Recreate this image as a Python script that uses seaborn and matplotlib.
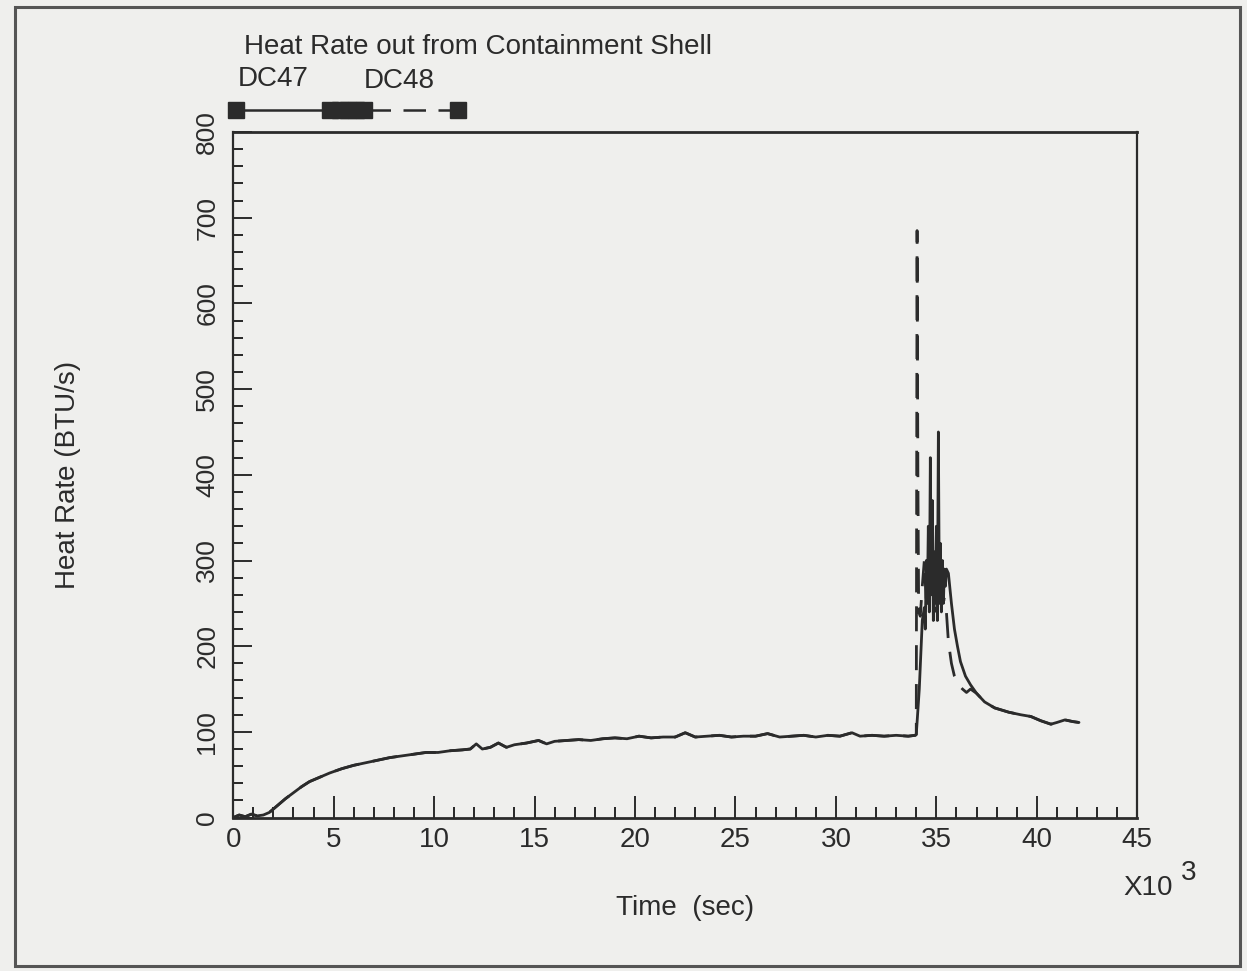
import matplotlib
matplotlib.use("Agg")
import matplotlib.pyplot as plt
import seaborn as sns
import numpy as np
import pandas as pd
from matplotlib.patches import Rectangle
from matplotlib.ticker import MultipleLocator, FuncFormatter

# Readings taken off the scanned plot (time in sec, heat rate in BTU/s)
# both runs lie on top of each other up to ~34000 s
t_base = [0, 300, 600, 900, 1200, 1500, 1800, 2200, 2600, 3000, 3400, 3800, 4200, 4800,
          5400, 6000, 6600, 7200, 7800, 8400, 9000, 9600, 10200, 10800, 11400, 11800,
          12100, 12400, 12800, 13200, 13600, 14000, 14600, 15200, 15600, 16000, 16600,
          17200, 17800, 18400, 19000, 19600, 20200, 20800, 21400, 22000, 22500, 23000,
          23600, 24200, 24800, 25400, 26000, 26600, 27200, 27800, 28400, 29000, 29600,
          30200, 30800, 31200, 31800, 32400, 33000, 33600, 33950]
q_base = [0, 3, 1, 4, 2, 3, 6, 14, 22, 29, 36, 42, 46, 52,
          57, 61, 64, 67, 70, 72, 74, 76, 76, 78, 79, 80,
          86, 80, 82, 87, 82, 85, 87, 90, 86, 89, 90,
          91, 90, 92, 93, 92, 95, 93, 94, 94, 99, 94,
          95, 96, 94, 95, 95, 98, 94, 95, 96, 94, 96,
          95, 99, 95, 96, 95, 96, 95, 96]

t_dc47 = [34000, 34150, 34300, 34400, 34450, 34500, 34550, 34600, 34650, 34700, 34750,
          34800, 34850, 34900, 34950, 35000, 35050, 35100, 35150, 35200, 35250, 35300,
          35350, 35400, 35450, 35500, 35600, 35750, 35900, 36050, 36200, 36450, 36700,
          37000, 37400, 37900, 38600, 39200, 39700, 40200, 40700, 41000, 41400, 41800, 42100]
q_dc47 = [97, 150, 230, 245, 220, 300, 250, 340, 240, 420, 260,
          370, 230, 310, 250, 340, 230, 450, 250, 320, 240, 300,
          250, 290, 270, 290, 285, 250, 220, 200, 182, 165, 155,
          145, 135, 128, 123, 120, 118, 113, 109, 111, 114, 112, 111]

t_dc48 = [34000, 34040, 34080, 34120, 34200, 34300, 34400, 34500, 34600, 34700, 34800,
          34900, 35000, 35100, 35200, 35300, 35400, 35500, 35600, 35750, 35900, 36100,
          36300, 36500, 36700, 37000, 37400, 37900, 38600, 39200, 39700, 40200, 40700,
          41000, 41400, 41800, 42100]
q_dc48 = [97, 685, 400, 240, 235, 270, 300, 250, 290, 260, 300,
          240, 280, 260, 270, 250, 255, 240, 205, 180, 165, 155,
          150, 146, 150, 145, 135, 128, 123, 120, 118, 113, 109,
          111, 114, 112, 111]

# key drawn above the frame: line extents and marker spots (sec)
key_dc47_t = [150, 4800]
key_dc48_t = [6700, 11200]
key_marks_t = [150, 4800, 5300, 5700, 6100, 6500, 11200]
key_y = 826

x_ticks = [0, 5, 10, 15, 20, 25, 30, 35, 40, 45]
y_ticks = [0, 100, 200, 300, 400, 500, 600, 700, 800]

paper = "#efefed"
ink = "#2b2b2b"

sns.set_theme(style="ticks")
plt.rcParams['font.family'] = ['Liberation Sans', 'DejaVu Sans']

fig = plt.figure(figsize=(12.47, 9.71), dpi=100, facecolor=paper)
ax = fig.add_axes([0.187, 0.158, 0.725, 0.706])
ax.set_facecolor(paper)

dc47 = pd.DataFrame({"t": t_base + t_dc47, "q": q_base + q_dc47})
dc48 = pd.DataFrame({"t": t_base + t_dc48, "q": q_base + q_dc48})

sns.lineplot(data=dc47, x="t", y="q", ax=ax, sort=False, estimator=None,
             color=ink, linewidth=2.0)
sns.lineplot(data=dc48, x="t", y="q", ax=ax, sort=False, estimator=None,
             color=ink, linewidth=2.0, dashes=False)
ax.lines[-1].set_dashes([9, 5])

ax.set_xlim(0, 45000)
ax.set_ylim(0, 800)
ax.set_xticks([v * 1000 for v in x_ticks])
ax.xaxis.set_major_formatter(FuncFormatter(lambda v, p: f"{v / 1000:g}"))
ax.xaxis.set_minor_locator(MultipleLocator(1000))
ax.set_yticks(y_ticks)
ax.yaxis.set_minor_locator(MultipleLocator(20))

ax.tick_params(axis="x", which="major", direction="in", length=16, width=1.4,
               labelsize=20, pad=7, colors=ink, top=False)
ax.tick_params(axis="x", which="minor", direction="in", length=8, width=1.4,
               top=False)
ax.tick_params(axis="y", which="major", direction="in", length=14, width=1.4,
               labelsize=19, pad=10, colors=ink, right=False)
ax.tick_params(axis="y", which="minor", direction="in", length=7, width=1.4,
               right=False)
for lab in ax.get_yticklabels():
    lab.set_rotation(90)
    lab.set_va("center")

for s in ax.spines.values():
    s.set_color(ink)
    s.set_linewidth(1.6)
ax.spines["top"].set_linewidth(2.0)
ax.spines["bottom"].set_linewidth(2.0)

ax.set_xlabel("Time  (sec)", fontsize=20, color=ink, labelpad=30)
ax.set_ylabel("Heat Rate (BTU/s)", fontsize=20, color=ink, labelpad=82)

# key above the plot
ax.plot(key_dc47_t, [key_y, key_y], color=ink, lw=1.8, clip_on=False)
ax.plot(key_dc48_t, [key_y, key_y], color=ink, lw=1.8, dashes=[9, 5], clip_on=False)
ax.plot(key_marks_t, [key_y] * len(key_marks_t), ls="none", marker="s",
        ms=11, color=ink, clip_on=False)

fig.text(0.196, 0.952, "Heat Rate out from Containment Shell", fontsize=20,
         color=ink, va="center", ha="left")
fig.text(0.191, 0.919, "DC47", fontsize=20, color=ink, va="center", ha="left")
fig.text(0.292, 0.917, "DC48", fontsize=20, color=ink, va="center", ha="left")
fig.text(0.921, 0.085, "X10", fontsize=20, color=ink, va="center", ha="center")
fig.text(0.953, 0.101, "3", fontsize=20, color=ink, va="center", ha="center")

fig.patches.append(Rectangle((15 / 1247, 1 - 966 / 971), 1225 / 1247, 959 / 971,
                             transform=fig.transFigure, fill=False, lw=2.2,
                             ec="#555555"))

fig.savefig("out.png", dpi=100, facecolor=paper)
